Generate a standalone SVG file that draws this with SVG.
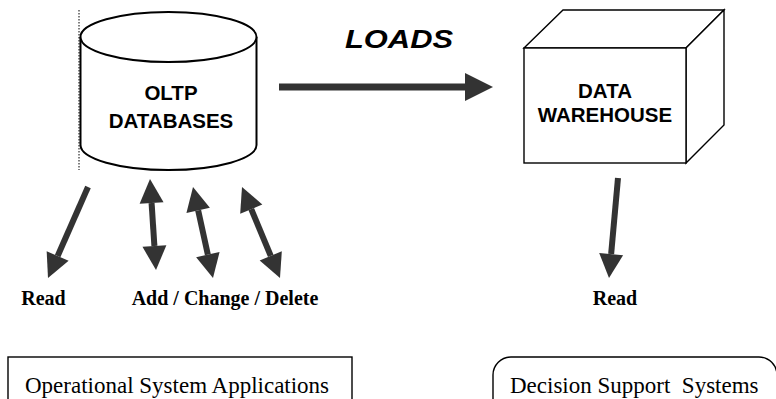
<svg xmlns="http://www.w3.org/2000/svg" width="776" height="399" viewBox="0 0 776 399">
<style>
.shape{fill:#fff;stroke:#000;stroke-width:2}
.thin{fill:#fff;stroke:#000;stroke-width:1.4}
.arw{stroke:#333;stroke-width:6;fill:none}
.big{stroke:#333;stroke-width:7;fill:none}
.head{fill:#333;stroke:none}
.hd{font-family:"Liberation Sans",Arial,sans-serif;font-weight:bold;font-size:20.5px;text-anchor:middle;fill:#000}
.lb{font-family:"Liberation Serif","Times New Roman",serif;font-weight:bold;font-size:20px;text-anchor:middle;fill:#000}
.bx{font-family:"Liberation Serif","Times New Roman",serif;font-size:23px;fill:#000;white-space:pre}
</style>
<g id="oltp">
<line x1="79" y1="10" x2="79" y2="170" stroke="#000" stroke-width="1" stroke-dasharray="1.5,1.5"/>
<path class="shape" d="M80.5,37 L80.5,145 A88,25 0 0 0 256.5,145 L256.5,37"/>
<ellipse class="shape" cx="168.5" cy="37" rx="88" ry="25"/>
<text class="hd" x="171" y="100">OLTP</text>
<text class="hd" x="171" y="128">DATABASES</text>
</g>
<g id="warehouse">
<polygon class="thin" points="524,48 563,10 724,10 686,48"/>
<polygon class="thin" points="686,48 724,10 724,125 686,163"/>
<rect class="thin" x="524" y="48" width="162" height="115"/>
<text class="hd" x="605" y="98">DATA</text>
<text class="hd" x="605" y="122">WAREHOUSE</text>
</g>
<g id="loads-label">
<text x="399" y="48" font-family="'Liberation Sans',Arial,sans-serif" font-weight="bold" font-style="italic" font-size="25" text-anchor="middle" textLength="108" lengthAdjust="spacingAndGlyphs">LOADS</text>
</g>
<g id="connectors">
<line class="big" x1="279" y1="87" x2="466" y2="87"/>
<polygon class="head" points="493,87 465,73 465,101"/>

<line class="arw" x1="88" y1="187" x2="57.65" y2="256.03"/>
<polygon class="head" points="48,278 46.67,251.21 68.63,260.85"/>

<line class="arw" x1="151.58" y1="202.95" x2="154.42" y2="246.05"/>
<polygon class="head" points="156,270 142.45,246.84 166.39,245.26"/>
<polygon class="head" points="150,179 139.61,203.74 163.55,202.16"/>

<line class="arw" x1="198.15" y1="210.44" x2="207.85" y2="254.56"/>
<polygon class="head" points="213,278 196.13,257.14 219.57,251.98"/>
<polygon class="head" points="193,187 186.43,213.02 209.87,207.86"/>

<line class="arw" x1="251.25" y1="209.14" x2="270.75" y2="255.86"/>
<polygon class="head" points="280,278 259.68,260.48 281.82,251.24"/>
<polygon class="head" points="242,187 240.18,213.76 262.32,204.52"/>

<line class="arw" x1="618" y1="178" x2="611.15" y2="254.1"/>
<polygon class="head" points="609,278 599.2,253.03 623.1,255.18"/>
</g>
<g id="labels">
<text class="lb" x="43.5" y="305">Read</text>
<text class="lb" x="225" y="305">Add / Change / Delete</text>
<text class="lb" x="615" y="305">Read</text>
</g>
<g id="osa">
<rect class="thin" x="8" y="357" width="344" height="60"/>
<text class="bx" x="25" y="393">Operational System Applications</text>
</g>
<g id="dss">
<rect class="thin" x="493" y="357" width="284" height="60" rx="18" ry="18"/>
<text class="bx" x="510" y="393">Decision Support  Systems</text>
</g>
</svg>
